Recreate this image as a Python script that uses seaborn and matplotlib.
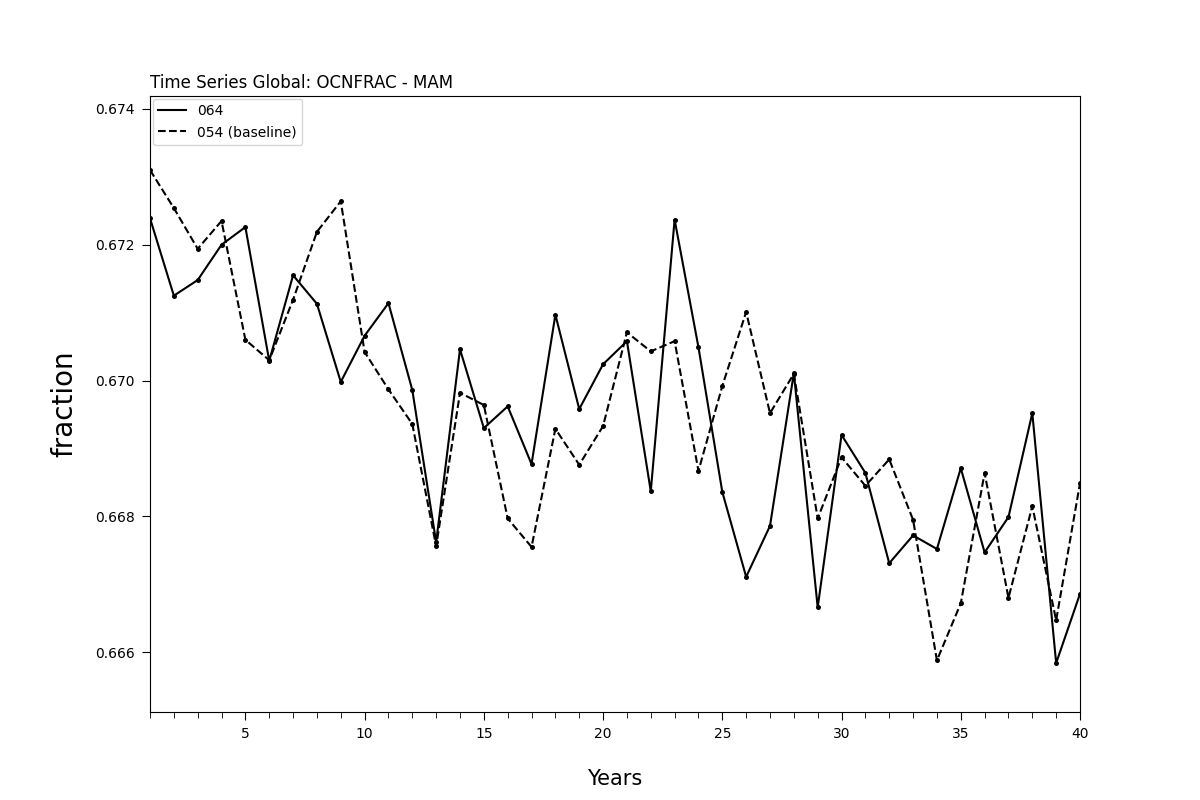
import matplotlib
matplotlib.use("Agg")
import matplotlib.pyplot as plt
from matplotlib.ticker import MultipleLocator, FormatStrFormatter
import seaborn as sns
import pandas as pd

# data
years = list(range(1, 41))
case_064 = [0.67239, 0.67125, 0.67148, 0.67200, 0.67226, 0.67029, 0.67155, 0.67113,
            0.66998, 0.67066, 0.67114, 0.66986, 0.66762, 0.67046, 0.66930, 0.66962,
            0.66877, 0.67097, 0.66958, 0.67024, 0.67058, 0.66837, 0.67237, 0.67049,
            0.66836, 0.66711, 0.66786, 0.67011, 0.66666, 0.66920, 0.66864, 0.66731,
            0.66772, 0.66752, 0.66871, 0.66747, 0.66799, 0.66952, 0.66584, 0.66686]
base_054 = [0.67310, 0.67254, 0.67194, 0.67235, 0.67060, 0.67030, 0.67119, 0.67219,
            0.67264, 0.67042, 0.66987, 0.66936, 0.66756, 0.66982, 0.66964, 0.66797,
            0.66755, 0.66929, 0.66876, 0.66933, 0.67071, 0.67043, 0.67058, 0.66867,
            0.66992, 0.67101, 0.66952, 0.67010, 0.66797, 0.66887, 0.66845, 0.66884,
            0.66795, 0.66588, 0.66672, 0.66864, 0.66680, 0.66815, 0.66647, 0.66849]

df = pd.DataFrame({"year": years, "064": case_064, "054 (baseline)": base_054})

fig, ax = plt.subplots(figsize=(12, 8), dpi=100)

sns.lineplot(data=df, x="year", y="064", color="black", linestyle="-",
             marker="o", markersize=3.6, markeredgewidth=0, label="064", ax=ax)
sns.lineplot(data=df, x="year", y="054 (baseline)", color="black", linestyle="--",
             marker="o", markersize=3.6, markeredgewidth=0, label="054 (baseline)", ax=ax)

ax.set_xlim(1, 40)
ax.set_ylim(0.66512, 0.67419)
ax.xaxis.set_major_locator(MultipleLocator(5))
ax.xaxis.set_minor_locator(MultipleLocator(1))
ax.yaxis.set_major_locator(MultipleLocator(0.002))
ax.yaxis.set_major_formatter(FormatStrFormatter("%.3f"))
ax.tick_params(which="major", length=6, pad=5)
ax.tick_params(which="minor", length=4)

ax.set_title("Time Series Global: OCNFRAC - MAM", loc="left", fontsize=12)
ax.set_xlabel("Years", fontsize=15, labelpad=20)
ax.set_ylabel("fraction", fontsize=20, labelpad=12)

leg = ax.legend(loc="upper left", borderaxespad=0.2)
for h in leg.get_lines():
    h.set_marker("")

plt.savefig("out.png")
